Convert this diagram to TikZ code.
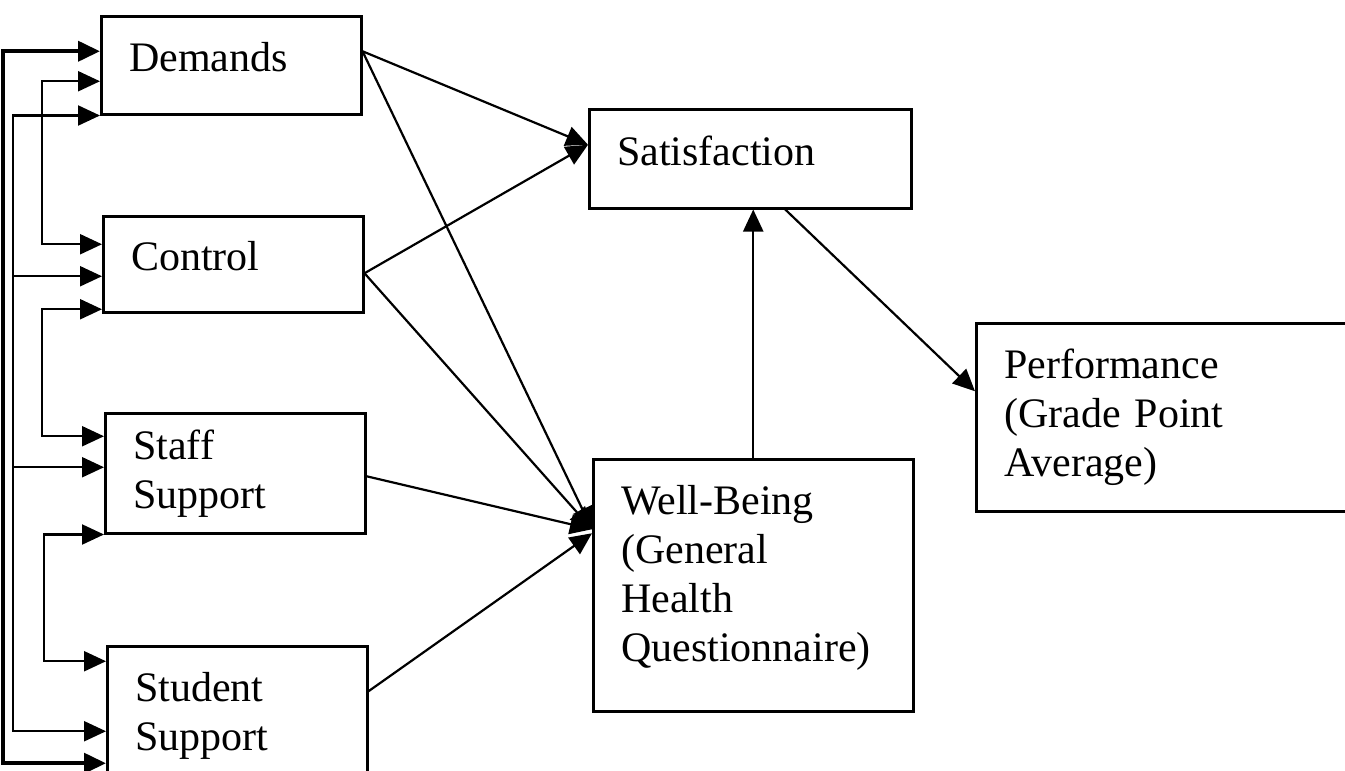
\documentclass[tikz,border=0pt]{standalone}
\usepackage{fontspec}
\setmainfont{Liberation Serif}
\usetikzlibrary{arrows.meta}
\tikzstyle{factor}=[draw, rectangle, anchor=north west, align=left, inner xsep=14pt, inner ysep=0pt, line width=1.25pt]

\begin{document}
\begin{tikzpicture}[x=0.5pt, y=-0.5pt, line width=1.1pt, >={Triangle[length=11pt, width=10pt]}, font=\fontsize{21}{24.5}\selectfont]
                    \clip (0,0) rectangle (1345,771);
                    % predictors
                    \node[factor, text width=102pt, minimum height=49pt, text depth=8pt] (d) at (100,15) {Demands};
                    \node[factor, text width=102pt, minimum height=48pt, text depth=8pt] (c) at (102,215) {Control};
                    \node[factor, text width=102pt, minimum height=60pt] (st) at (104,412) {Staff\\Support};
                    \node[factor, text width=102pt, minimum height=70pt] (su) at (106,645) {Student\\Support};
                    % outcomes
                    \node[factor, text width=133pt, minimum height=49.5pt, text depth=8pt] (sa) at (588,108) {Satisfaction};
                    \node[factor, text width=132pt, minimum height=126pt, text height=7pt] (wb) at (592,458) {Well-Being\\(General\\Health\\Questionnaire)};
                    \node[factor, text width=162pt, minimum height=94pt] (pf) at (975,322) {Performance\\(Grade Point\\Average)};
                    % correlations on the left
                    \draw[<->, line width=2pt] ([yshift=7pt]d.west) -- ++(-97,0) |- ([yshift=-23.5pt]su.west);
                    \draw[<->] (d.south west) -- ++(-87,0) |- ([yshift=-7.5pt]su.west);
                    \draw[<-]  ([yshift=-6pt]c.west) -- ++(-89,0);
                    \draw[<-]  ([yshift=3pt]st.west) -- ++(-91,0);
                    \draw[<->] ([yshift=-8pt]d.west) -- ++(-58,0) |- ([yshift=10pt]c.west);
                    \draw[<->] ([yshift=-22.5pt]c.west) -- ++(-60,0) |- ([yshift=18.5pt]st.west);
                    \draw[<->] (st.south west) -- ++(-60,0) |- ([yshift=27.5pt]su.west);
                    % paths
                    \draw[->]  ([yshift=7pt]d.east) -- ([yshift=7pt]sa.west);
                    \draw[->]  ([yshift=-4.5pt]c.east) -- ([yshift=7pt]sa.west);
                    \draw[->]  ([yshift=7pt]d.east) -- ([yshift=28pt]wb.west);
                    \draw[->]  ([yshift=-4.5pt]c.east) -- ([yshift=28pt]wb.west);
                    \draw[->]  ([yshift=-1.5pt]st.east) -- ([yshift=28pt]wb.west);
                    \draw[->]  ([yshift=12.5pt]su.east) -- ([yshift=26pt]wb.west);
                    \draw[->]  (wb.north) -- (wb.north|-sa.south);
                    \draw[->]  ([xshift=17.5pt]sa.south) -- ([yshift=13pt]pf.west);
                \end{tikzpicture}
\end{document}
